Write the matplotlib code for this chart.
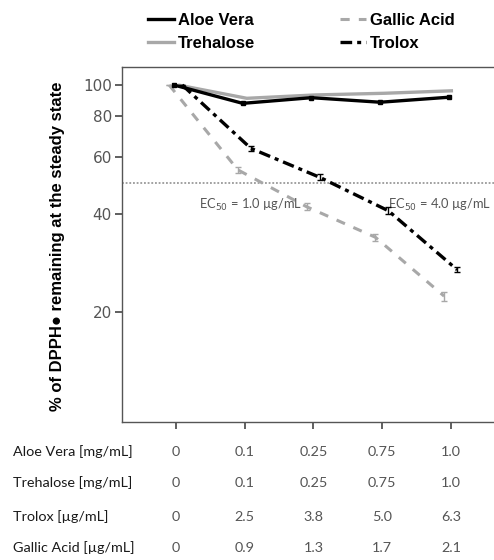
import matplotlib
matplotlib.use("Agg")
import matplotlib.pyplot as plt
import matplotlib.transforms as mtransforms
from matplotlib.lines import Line2D
from matplotlib.ticker import FixedLocator, NullLocator, FixedFormatter

# ---- data ----
positions = [0, 1, 2, 3, 4]
aloe_vera = [100, 87.8, 91.4, 88.5, 91.7]
trehalose = [100, 91.0, 93.2, 94.3, 96.0]
gallic_acid = [100, 54.8, 42.2, 34.0, 22.4]
gallic_err = [0, 1.2, 1.0, 0.9, 0.7]
trolox = [100, 63.8, 52.0, 41.0, 27.0]
trolox_err = [0, 1.2, 1.1, 1.0, 0.5]

yticks = [20, 40, 60, 80, 100]
row_labels = ["Aloe Vera [mg/mL]", "Trehalose [mg/mL]", "Trolox [\u00b5g/mL]", "Gallic Acid [\u00b5g/mL]"]
row_values = [
    ["0", "0.1", "0.25", "0.75", "1.0"],
    ["0", "0.1", "0.25", "0.75", "1.0"],
    ["0", "2.5", "3.8", "5.0", "6.3"],
    ["0", "0.9", "1.3", "1.7", "2.1"],
]
ec50_level = 50
ec50_texts = ["EC$_{50}$ = 1.0 \u00b5g/mL", "EC$_{50}$ = 4.0 \u00b5g/mL"]

W, H = 494, 560
fig = plt.figure(figsize=(W / 100, H / 100), dpi=100)
ax = fig.add_axes([121.7 / W, 1 - 421.7 / H, 1 - 121.7 / W + 0.002, (421.7 - 67) / H])

offs = {"gallic": -0.10, "aloe": -0.03, "treh": 0.03, "trolox": 0.09}

def xs(key):
    return [p + offs[key] for p in positions]

treh_style = dict(color="#a8a8a8", lw=2.4)
aloe_style = dict(color="black", lw=2.4)
gal_style = dict(color="#a8a8a8", lw=2.2, dashes=(3, 3))
tro_style = dict(color="black", lw=2.4, dashes=(3.5, 1.5, 1.2, 1.5))

ax.plot(xs("treh"), trehalose, solid_capstyle="butt", zorder=3, **treh_style)
ax.plot(xs("aloe"), aloe_vera, zorder=4, marker="s", markersize=3, solid_capstyle="butt", **aloe_style)
ax.plot(xs("gallic"), gallic_acid, zorder=3, **gal_style)
ax.errorbar(xs("gallic"), gallic_acid, yerr=gallic_err, fmt="none", ecolor="#a8a8a8",
            elinewidth=1, capsize=2, zorder=3)
ax.plot(xs("trolox"), trolox, zorder=4, **tro_style)
ax.errorbar(xs("trolox"), trolox, yerr=trolox_err, fmt="none", ecolor="black",
            elinewidth=1, capsize=2, zorder=4)

ax.axhline(ec50_level, color="#888888", lw=1.1, ls=(0, (1.2, 1.2)), zorder=2)

ax.set_yscale("log")
ax.set_ylim(9.2, 113.6)
ax.set_xlim(-0.79, 4.64)
ax.yaxis.set_major_locator(FixedLocator(yticks))
ax.yaxis.set_major_formatter(FixedFormatter([str(v) for v in yticks]))
ax.yaxis.set_minor_locator(NullLocator())
ax.set_xticks(positions)
ax.set_xticklabels([])
ax.tick_params(axis="both", direction="out", length=5, width=1.2, color="#444444",
               labelsize=11, labelcolor="#555555")
ax.tick_params(axis="y", pad=2)
for s in ax.spines.values():
    s.set_color("#555555")
    s.set_linewidth(1.0)

ax.set_ylabel("% of DPPH\u25cf remaining at the steady state", fontsize=12, fontweight="bold",
              family=["Liberation Sans", "DejaVu Sans"])
ax.yaxis.set_label_coords((65 - 121.7) / (W - 121.7), (421.7 - 246) / (421.7 - 67))

ax.text(0.34, 42.8, ec50_texts[0], fontsize=9.3, color="#555555", family="Lato",
        ha="left", va="center")
ax.text(3.08, 42.8, ec50_texts[1], fontsize=9.3, color="#555555", family="Lato",
        ha="left", va="center")

# legend
handles = [Line2D([], [], **aloe_style), Line2D([], [], **treh_style),
           Line2D([], [], **gal_style), Line2D([], [], **tro_style)]
fig.legend(handles, ["Aloe Vera", "Trehalose", "Gallic Acid", "Trolox"],
           loc="upper left", bbox_to_anchor=(148 / W, 1 - 13 / H), ncol=2, frameon=False,
           borderpad=0, borderaxespad=0,
           prop={"family": "Liberation Sans", "weight": "bold", "size": 12},
           handlelength=1.55, handletextpad=0.25, columnspacing=5.1, labelspacing=0.48)

# table under the axis
trans = mtransforms.blended_transform_factory(ax.transData, fig.transFigure)
row_y = [452, 483, 517, 548]
for lab, vals, yy in zip(row_labels, row_values, row_y):
    fig.text(13 / W, 1 - yy / H, lab, fontsize=10.4, color="#1a1a1a", family="Lato",
             ha="left", va="center")
    for p, v in zip(positions, vals):
        ax.text(p, 1 - yy / H, v, transform=trans, fontsize=10.4, color="#555555",
                family="Lato", ha="center", va="center", clip_on=False)

fig.savefig("out.png", dpi=100, facecolor="white")
